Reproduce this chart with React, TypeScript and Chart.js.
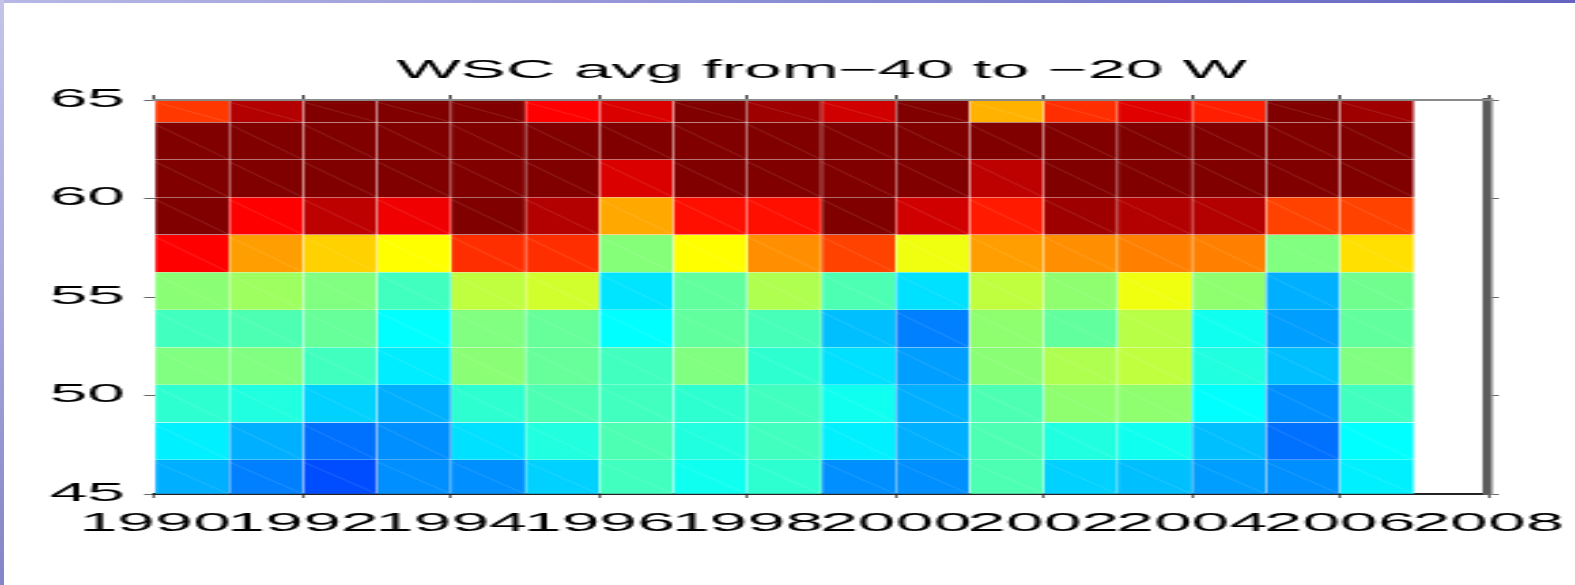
import React, { useEffect, useRef } from "react";
import { Chart, registerables } from "chart.js";

Chart.register(...registerables);

// ---------- data ----------
const TITLE = "WSC avg from\u221240 to \u221220 W";
const YEARS = [1990, 1991, 1992, 1993, 1994, 1995, 1996, 1997, 1998, 1999, 2000, 2001, 2002, 2003, 2004, 2005, 2006];
const X_TICKS = [1990, 1992, 1994, 1996, 1998, 2000, 2002, 2004, 2006, 2008];
const Y_TICKS = [45, 50, 55, 60, 65];
// latitude band edges (deg N), bottom to top
const LAT_EDGES = [45, 46.73, 48.63, 50.54, 52.44, 54.35, 56.25, 58.16, 60.06, 61.97, 63.87, 65];
// colour-scale limits (normalised WSC)
const C_MIN = 0;
const C_MAX = 1;

// one array per latitude band, values per year (normalised WSC)
const wsc45_9 = [0.297, 0.25, 0.2, 0.265, 0.265, 0.33, 0.4375, 0.39, 0.42, 0.265, 0.265, 0.45, 0.33, 0.3125, 0.28, 0.265, 0.36];
const wsc47_7 = [0.36, 0.297, 0.235, 0.265, 0.345, 0.406, 0.45, 0.406, 0.4375, 0.36, 0.297, 0.45, 0.406, 0.39, 0.3125, 0.235, 0.375];
const wsc49_6 = [0.42, 0.406, 0.33, 0.297, 0.42, 0.45, 0.4375, 0.42, 0.4375, 0.39, 0.297, 0.45, 0.515, 0.515, 0.375, 0.265, 0.4375];
const wsc51_5 = [0.5, 0.5, 0.4375, 0.357, 0.51, 0.475, 0.4375, 0.5, 0.42, 0.345, 0.28, 0.51, 0.547, 0.5625, 0.406, 0.3125, 0.5];
const wsc53_4 = [0.4375, 0.45, 0.475, 0.375, 0.5, 0.475, 0.375, 0.47, 0.445, 0.3125, 0.25, 0.515, 0.47, 0.555, 0.39, 0.28, 0.47];
const wsc55_3 = [0.51, 0.53, 0.5, 0.4375, 0.5625, 0.58, 0.35, 0.47, 0.547, 0.45, 0.345, 0.5625, 0.515, 0.61, 0.515, 0.297, 0.485];
const wsc57_2 = [0.875, 0.72, 0.67, 0.625, 0.83, 0.83, 0.505, 0.625, 0.735, 0.81, 0.61, 0.72, 0.735, 0.75, 0.75, 0.5, 0.655];
const wsc59_1 = [1.0, 0.875, 0.94, 0.89, 1.0, 0.95, 0.71, 0.86, 0.86, 1.0, 0.92, 0.85, 0.97, 0.95, 0.95, 0.81, 0.81];
const wsc61_0 = [1.0, 1.0, 1.0, 1.0, 1.0, 1.0, 0.91, 1.0, 1.0, 1.0, 1.0, 0.94, 1.0, 1.0, 1.0, 1.0, 1.0];
const wsc62_9 = [1.0, 1.0, 1.0, 1.0, 1.0, 1.0, 1.0, 1.0, 1.0, 1.0, 1.0, 1.0, 1.0, 1.0, 1.0, 1.0, 1.0];
const wsc64_4 = [0.82, 0.95, 1.0, 1.0, 1.0, 0.875, 0.91, 1.0, 0.97, 0.92, 1.0, 0.7, 0.83, 0.905, 0.845, 1.0, 0.97];

const ROWS = [wsc45_9, wsc47_7, wsc49_6, wsc51_5, wsc53_4, wsc55_3, wsc57_2, wsc59_1, wsc61_0, wsc62_9, wsc64_4];

// ---------- layout / style ----------
const CW = 579; // unstretched canvas width
const CH = 585;
const SX = 1575 / CW; // horizontal stretch of the figure
const FONT = { family: "'Liberation Sans', Arial, Helvetica, sans-serif", size: 25, weight: "normal" as const };

function clamp01(v: number) {
  return Math.max(0, Math.min(1, v));
}
function jet(v: number) {
  const t = clamp01((v - C_MIN) / (C_MAX - C_MIN));
  const r = clamp01(1.5 - Math.abs(4 * t - 3));
  const g = clamp01(1.5 - Math.abs(4 * t - 2));
  const b = clamp01(1.5 - Math.abs(4 * t - 1));
  return `rgb(${Math.round(r * 255)},${Math.round(g * 255)},${Math.round(b * 255)})`;
}

const streakPlugin = {
  id: "streaks",
  afterDatasetsDraw(chart: any) {
    const ctx = chart.ctx;
    ctx.save();
    ctx.strokeStyle = "rgba(255,255,255,0.12)";
    ctx.lineWidth = 1;
    chart.data.datasets.forEach((_: any, di: number) => {
      chart.getDatasetMeta(di).data.forEach((bar: any) => {
        const p = bar.getProps(["x", "y", "base", "width"], true);
        ctx.beginPath();
        ctx.moveTo(p.x - p.width / 2, p.y + 2);
        ctx.lineTo(p.x + p.width / 2, p.base);
        ctx.stroke();
      });
    });
    ctx.restore();
  },
};

export default function App() {
  const ref = useRef<HTMLCanvasElement>(null);

  useEffect(() => {
    const datasets = ROWS.map((vals, r) => ({
      data: vals.map((v, i) => ({ x: YEARS[i] + 0.5, y: [LAT_EDGES[r], LAT_EDGES[r + 1]] })),
      backgroundColor: vals.map((v) => jet(v)),
      borderColor: "rgba(255,255,255,0.16)",
      borderWidth: 0.5,
      borderSkipped: false,
      grouped: false,
      barPercentage: 1,
      categoryPercentage: 1,
      xAxisID: "x",
      yAxisID: "y",
    }));

    const chart = new Chart(ref.current as HTMLCanvasElement, {
      type: "bar",
      data: { datasets } as any,
      plugins: [streakPlugin],
      options: {
        responsive: false,
        animation: false,
        devicePixelRatio: 1,
        layout: { padding: 0 },
        plugins: {
          legend: { display: false },
          tooltip: { enabled: false },
          title: {
            display: true,
            text: TITLE,
            color: "#000",
            fullSize: false,
            font: { ...FONT, lineHeight: 1 },
            padding: { top: 59, bottom: 0 },
          },
        },
        scales: {
          x: {
            type: "linear",
            position: "bottom",
            min: X_TICKS[0],
            max: X_TICKS[X_TICKS.length - 1],
            offset: false,
            afterBuildTicks: (s: any) => {
              s.ticks = X_TICKS.map((v) => ({ value: v }));
            },
            ticks: {
              autoSkip: false,
              maxRotation: 0,
              minRotation: 0,
              padding: 11,
              color: "#000",
              font: FONT,
              callback: (v: any) => String(v),
            },
            grid: { offset: false, drawOnChartArea: false, drawTicks: true, tickLength: 4, color: "#666" },
            border: { display: true, color: "#222", width: 2 },
            afterFit: (s: any) => {
              s.height = CH - 494;
              s.paddingLeft = 0;
              s.paddingRight = 0;
            },
          },
          x2: {
            type: "linear",
            position: "top",
            min: X_TICKS[0],
            max: X_TICKS[X_TICKS.length - 1],
            offset: false,
            afterBuildTicks: (s: any) => {
              s.ticks = X_TICKS.map((v) => ({ value: v }));
            },
            ticks: { display: false },
            grid: { offset: false, drawOnChartArea: false, drawTicks: true, tickLength: 5, color: "#444" },
            border: { display: true, color: "#8a8a8a", width: 2, z: 1 },
            afterFit: (s: any) => {
              s.height = 16;
              s.paddingLeft = 0;
              s.paddingRight = 0;
            },
          },
          y: {
            type: "linear",
            position: "left",
            min: Y_TICKS[0],
            max: Y_TICKS[Y_TICKS.length - 1],
            afterBuildTicks: (s: any) => {
              s.ticks = Y_TICKS.map((v) => ({ value: v }));
            },
            ticks: { padding: 7, color: "#000", font: FONT, callback: (v: any) => String(v) },
            grid: { drawOnChartArea: false, drawTicks: true, tickLength: 4, color: "#666" },
            border: { display: false },
            afterFit: (s: any) => {
              s.width = 155 / SX;
              s.paddingTop = 0;
              s.paddingBottom = 0;
            },
          },
          y2: {
            type: "linear",
            position: "right",
            min: Y_TICKS[0],
            max: Y_TICKS[Y_TICKS.length - 1],
            afterBuildTicks: (s: any) => {
              s.ticks = Y_TICKS.map((v) => ({ value: v }));
            },
            ticks: { display: false },
            grid: { drawOnChartArea: false, drawTicks: true, tickLength: 4, color: "#666" },
            border: { display: true, color: "#5c5c5c", width: 3.5 },
            afterFit: (s: any) => {
              s.width = CW - 1488 / SX;
              s.paddingTop = 0;
              s.paddingBottom = 0;
            },
          },
        },
      } as any,
    });
    return () => chart.destroy();
  }, []);

  return (
    <div style={{ position: "fixed", left: 0, top: 0, width: 1575, height: 585, background: "#fff", overflow: "hidden" }}>
      <div
        style={{
          position: "absolute",
          left: 0,
          top: 0,
          width: CW,
          height: CH,
          transform: `scaleX(${SX})`,
          transformOrigin: "0 0",
        }}
      >
        <canvas ref={ref} width={CW} height={CH} style={{ display: "block", width: CW, height: CH }} />
      </div>
      <div
        style={{
          position: "absolute",
          left: 0,
          top: 0,
          width: 1575,
          height: 3,
          background: "linear-gradient(90deg, #b8b8e6 0%, #8c8cd4 50%, #6464c0 100%)",
        }}
      />
      <div
        style={{
          position: "absolute",
          left: 0,
          top: 0,
          width: 4,
          height: 585,
          background: "linear-gradient(180deg, #c4c4ea 0%, #a8a8dc 50%, #8484c8 100%)",
        }}
      />
    </div>
  );
}
